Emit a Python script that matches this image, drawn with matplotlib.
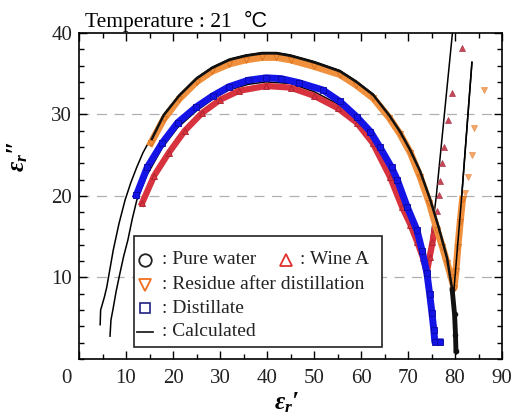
import matplotlib
matplotlib.use("Agg")
import matplotlib.pyplot as plt
from matplotlib.patches import Rectangle
from matplotlib.ticker import MultipleLocator
import matplotlib.transforms as mtransforms

plt.rcParams["font.family"] = ["Liberation Serif", "DejaVu Serif"]
plt.rcParams["mathtext.fontset"] = "custom"
plt.rcParams["mathtext.it"] = "Liberation Serif:italic:bold"
plt.rcParams["mathtext.rm"] = "Liberation Serif:bold"

# pure water (dense black band)
water_x = [15.5, 18.0, 21.3, 25.0, 28.3, 32.0, 35.5, 39.0, 42.0, 45.0, 50.0, 55.5, 59.0,
           62.6, 66.0, 68.3, 70.5, 72.6, 74.7, 76.5, 78.3, 79.4, 79.9, 80.1, 80.2]
water_y = [27.0, 29.9, 32.3, 34.4, 35.7, 36.7, 37.2, 37.5, 37.5, 37.2, 36.4, 35.3, 34.0,
           32.4, 29.9, 27.9, 25.6, 23.0, 19.6, 16.2, 12.4, 8.5, 5.5, 3.0, 1.0]

# wine A (dense part, then sparse points)
wine_x = [13.4, 16.0, 19.1, 22.5, 26.2, 30.0, 34.0, 39.8, 45.0, 50.0, 55.0, 59.1, 62.5,
          66.2, 68.7, 70.5, 72.0, 73.2, 74.0, 74.6, 75.2, 75.7]
wine_y = [19.1, 22.5, 25.3, 28.0, 30.2, 31.8, 32.9, 33.5, 33.3, 32.3, 30.8, 29.0, 26.5,
          22.3, 18.7, 16.5, 14.3, 12.4, 10.6, 12.5, 14.3, 16.0]
wine_sparse_x = [76.2, 76.6, 76.9, 77.3, 77.7, 78.4, 79.4, 81.5]
wine_sparse_y = [18.2, 20.1, 21.8, 24.0, 26.0, 29.3, 32.6, 38.2]

# residue after distillation
res_x = [15.3, 18.0, 21.3, 25.0, 28.3, 32.0, 35.5, 39.0, 42.0, 45.0, 50.0, 55.5, 59.0,
         62.6, 66.0, 68.3, 70.5, 72.6, 74.5, 76.2, 77.3, 78.3, 79.2, 79.8, 80.2, 80.6,
         81.1, 81.6]
res_y = [26.5, 29.4, 31.9, 34.0, 35.3, 36.2, 36.7, 37.0, 37.0, 36.7, 35.9, 34.9, 33.6,
         32.0, 29.6, 27.6, 25.3, 22.3, 19.2, 15.8, 13.8, 11.8, 10.0, 8.7, 10.8, 13.7,
         16.8, 19.6]
res_sparse_x = [82.1, 82.8, 83.6, 84.0, 86.2]
res_sparse_y = [20.4, 22.3, 25.0, 28.3, 33.0]

# distillate
dist_x = [12.2, 14.5, 17.7, 21.0, 24.9, 28.5, 31.9, 36.0, 39.8, 43.0, 46.8, 51.9, 55.5,
          59.1, 62.0, 64.0, 66.5, 67.7, 69.8, 71.9, 73.0, 74.0, 74.6, 75.1, 75.5, 75.7, 76.8]
dist_y = [20.1, 23.5, 26.5, 29.0, 30.9, 32.3, 33.4, 34.2, 34.5, 34.4, 33.9, 33.0, 31.6,
          29.7, 27.9, 26.0, 23.5, 22.0, 18.7, 15.8, 13.3, 10.6, 8.0, 5.6, 3.5, 2.1, 2.1]

# calculated curves
calc_water_x = [4.5, 4.6, 5.0, 5.4, 5.9, 6.6, 7.3, 8.5, 9.8, 11.0, 12.2, 13.6, 15.3, 18.0,
                21.3, 25.0, 28.3, 32.0, 35.5, 39.0, 42.0, 45.0, 50.0, 55.5, 59.0, 62.6,
                66.0, 68.3, 70.5, 72.6, 74.7, 76.5, 78.3, 79.4, 79.9, 80.2]
calc_water_y = [4.2, 6.0, 6.8, 7.6, 8.8, 11.1, 13.4, 16.6, 19.5, 21.6, 23.4, 25.3, 27.1,
                30.0, 32.4, 34.5, 35.8, 36.8, 37.3, 37.6, 37.6, 37.3, 36.5, 35.4, 34.1,
                32.5, 30.0, 28.0, 25.7, 23.1, 19.7, 16.3, 12.5, 8.5, 5.0, 0.6]
calc_res_x = [74.5, 76.2, 77.3, 78.3, 79.2, 79.8, 81.4, 83.6]
calc_res_y = [19.2, 15.8, 13.8, 11.8, 10.0, 8.7, 19.8, 36.4]
calc_wine_x = [6.6, 6.8, 7.2, 7.9, 8.7, 9.5, 10.4, 11.3, 12.3, 14.5, 17.7, 21.0, 24.9,
               28.5, 31.9, 36.0, 39.8, 45.0, 50.0, 55.0, 59.1, 62.5, 66.2, 68.7, 70.5,
               72.0, 73.2, 74.0, 76.0, 79.45]
calc_wine_y = [2.8, 4.8, 6.0, 8.3, 10.5, 12.6, 14.6, 17.1, 19.5, 22.6, 25.9, 28.4, 30.4,
               31.9, 33.0, 33.7, 34.0, 33.8, 32.8, 31.3, 29.4, 27.0, 22.8, 19.2, 16.8,
               14.5, 12.5, 10.6, 19.9, 40.0]

xticks = [0, 10, 20, 30, 40, 50, 60, 70, 80, 90]
yticks = [10, 20, 30, 40]

c_water = "#111111"
c_wine = "#d8323f"
c_res = "#f0903c"
c_dist = "#1414e6"

fig = plt.figure(figsize=(5.14, 4.17), dpi=100)
ax = fig.add_axes([0.1537, 0.1391, 0.823, 0.7818])

for yv in [10, 20, 30]:
    ax.axhline(yv, color="#b0b0b0", lw=0.9, ls=(0, (8, 6)), zorder=0)

# calculated lines
ax.plot(calc_water_x, calc_water_y, color="black", lw=1.1, zorder=2)
ax.plot(calc_res_x, calc_res_y, color="black", lw=1.1, zorder=2)
ax.plot(calc_wine_x, calc_wine_y, color="black", lw=1.1, zorder=2)

# measured data (dense bands)
ax.plot(wine_x, wine_y, color=c_wine, lw=4.5, marker="^", ms=5, mfc=c_wine,
        mec="#a82430", mew=0.6, zorder=3)
ax.plot(wine_sparse_x, wine_sparse_y, ls="none", marker="^", ms=4.5, mfc="#c8485a",
        mec="#a83a4a", mew=0.5, zorder=3)
ax.plot(dist_x, dist_y, color=c_dist, lw=5, marker="s", ms=4.5, mfc=c_dist,
        mec="#0a0aa0", mew=0.6, zorder=4)
ax.plot(res_x, res_y, color=c_res, lw=5, marker="v", ms=5, mfc=c_res,
        mec="#d87020", mew=0.6, zorder=3)
ax.plot(res_sparse_x, res_sparse_y, ls="none", marker="v", ms=4.5, mfc="#f4a868",
        mec="#e89050", mew=0.5, zorder=3)
ax.plot(water_x, water_y, color=c_water, lw=1.8, zorder=5)
ax.plot(water_x[-4:], water_y[-4:], color=c_water, lw=3.5, marker="o", ms=3,
        zorder=5)
ax.plot(calc_res_x[5:], calc_res_y[5:], color="black", lw=1.1, zorder=5)

ax.set_xlim(0, 90)
ax.set_ylim(0, 40)
ax.set_xticks(xticks)
ax.set_yticks(yticks)
ax.xaxis.set_minor_locator(MultipleLocator(5))
ax.yaxis.set_minor_locator(MultipleLocator(2))
ax.tick_params(which="both", direction="in", top=True, right=True, width=1.0,
               colors="black", labelcolor="#222222")
ax.tick_params(which="major", length=6, labelsize=15)
ax.tick_params(axis="x", which="major", pad=7)
ax.tick_params(axis="y", which="major", pad=5)
ax.tick_params(which="minor", length=3.5)
for sp in ax.spines.values():
    sp.set_linewidth(1.2)

# the corner "0" sits a little to the left
fig.canvas.draw()
zero = ax.get_xticklabels()[0]
zero.set_transform(zero.get_transform()
                   + mtransforms.ScaledTranslation(-0.13, 0, fig.dpi_scale_trans))

# axis labels and title
fig.text(0.558, 0.035, r"$\varepsilon_r$" + "\u2032", fontsize=18, ha="center",
         va="center", fontweight="bold", fontstyle="italic")
fig.text(0.035, 0.625, r"$\varepsilon_r$" + "\u2033", fontsize=18, rotation=90,
         ha="center", va="center", fontweight="bold", fontstyle="italic")
fig.text(0.165, 0.935, "Temperature : 21", fontsize=15.5, ha="left", va="baseline")
fig.text(0.474, 0.935, "°C", fontsize=15.5, ha="left", va="baseline",
         family=["Liberation Sans", "DejaVu Sans"])

# legend box drawn by hand
ax.add_patch(Rectangle((0.130, 0.037), 0.586, 0.340, transform=ax.transAxes,
                       facecolor="white", edgecolor="#222222", lw=1.2, zorder=6))
rows = [0.304, 0.227, 0.156, 0.083]
ax.plot([0.156], [rows[0]], transform=ax.transAxes, marker="o", ms=9, mfc="none",
        mec="#222222", mew=1.3, ls="none", zorder=7)
ax.plot([0.489], [rows[0]], transform=ax.transAxes, marker="^", ms=9, mfc="none",
        mec="#e03030", mew=1.3, ls="none", zorder=7)
ax.plot([0.156], [rows[1]], transform=ax.transAxes, marker="v", ms=9, mfc="none",
        mec="#f07020", mew=1.3, ls="none", zorder=7)
ax.plot([0.156], [rows[2]], transform=ax.transAxes, marker="s", ms=7.5, mfc="none",
        mec="#202080", mew=1.2, ls="none", zorder=7)
ax.plot([0.137, 0.175], [rows[3], rows[3]], transform=ax.transAxes, color="#222222",
        lw=1.3, zorder=7)
labels = [(0.196, rows[0], ": Pure water"), (0.522, rows[0], ": Wine A"),
          (0.196, rows[1], ": Residue after distillation"),
          (0.196, rows[2], ": Distillate"), (0.196, rows[3], ": Calculated")]
for lx, ly, txt in labels:
    ax.text(lx, ly, txt, transform=ax.transAxes, fontsize=14, ha="left",
            va="center", color="#222222", zorder=7)

fig.savefig("out.png", dpi=100)
